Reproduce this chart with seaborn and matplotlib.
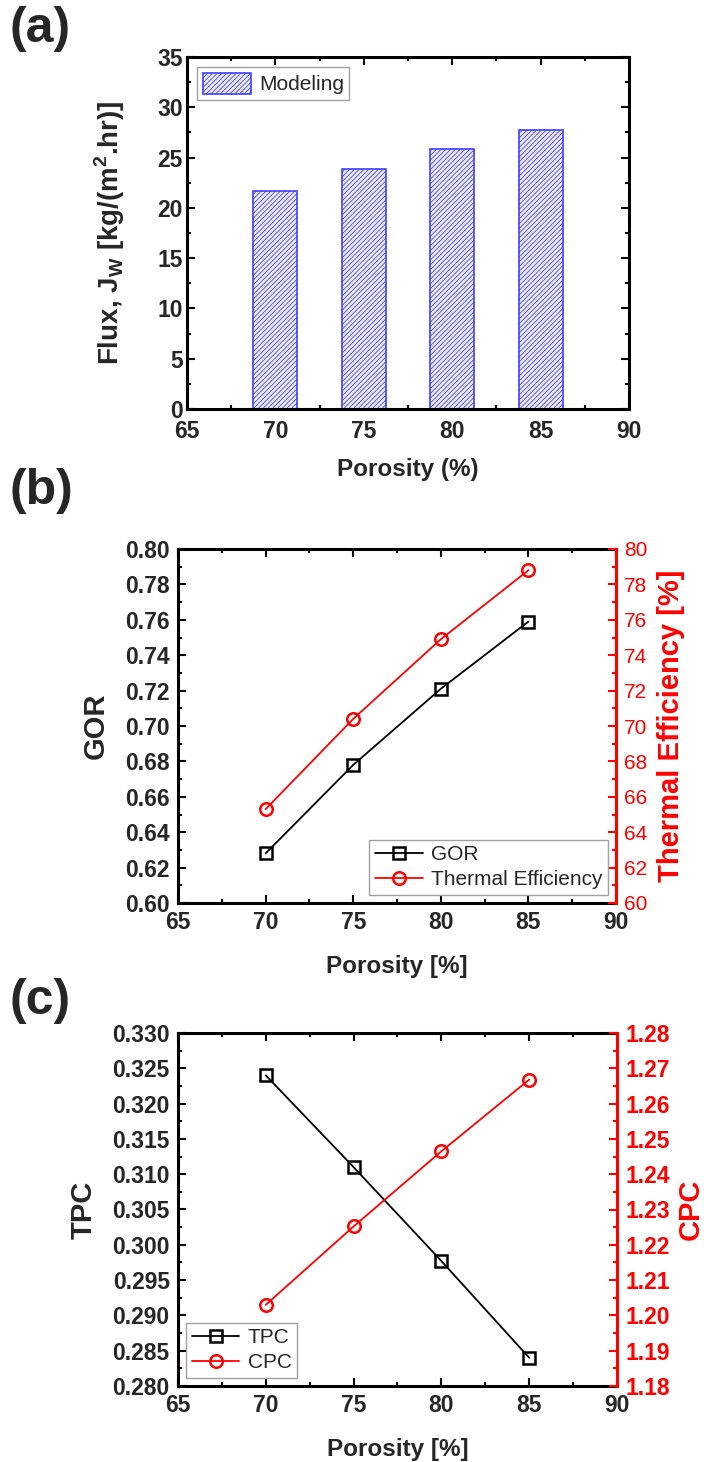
import matplotlib
matplotlib.use("Agg")
import matplotlib.pyplot as plt
from matplotlib.ticker import MultipleLocator, FormatStrFormatter
import pandas as pd
import seaborn as sns

# ---- data -------------------------------------------------------------
porosity = [70, 75, 80, 85]
flux = [21.7, 23.85, 25.9, 27.75]          # kg/(m2.hr)
gor = [0.628, 0.678, 0.721, 0.759]
thermal_eff = [65.3, 70.4, 74.9, 78.8]     # %
tpc = [0.324, 0.311, 0.2977, 0.284]
cpc = [1.203, 1.2252, 1.2465, 1.2668]

# ---- style ------------------------------------------------------------
sns.set_style("white")
plt.rcParams["font.family"] = ["Liberation Sans", "DejaVu Sans"]
plt.rcParams["font.weight"] = "bold"
plt.rcParams["axes.labelweight"] = "bold"
plt.rcParams["mathtext.fontset"] = "custom"
plt.rcParams["mathtext.rm"] = "Liberation Sans:bold"
plt.rcParams["mathtext.bf"] = "Liberation Sans:bold"
plt.rcParams["hatch.linewidth"] = 0.6

TICK_FS = 16.5
YLAB_FS = 21
XLAB_FS = 17.5
LEG_FS = 15
RED = "#ff0000"
BLUE = "#4040ff"

W, H = 704, 1462
fig = plt.figure(figsize=(W / 100, H / 100), dpi=100)


def add_axes(l, t, r, b):
    return fig.add_axes([l / W, 1 - b / H, (r - l) / W, (b - t) / H])


def frame(ax, right_ticks=True):
    for s in ax.spines.values():
        s.set_visible(True)
        s.set_linewidth(2.2)
        s.set_color("black")
    ax.tick_params(which="both", direction="in", top=True, right=right_ticks,
                   bottom=True, left=True, width=1.5, color="black",
                   labelsize=TICK_FS, pad=6)
    ax.tick_params(which="major", length=6)
    ax.tick_params(which="minor", length=3)
    ax.set_xlim(65, 90)
    ax.xaxis.set_major_locator(MultipleLocator(5))
    ax.xaxis.set_minor_locator(MultipleLocator(2.5))


def red_right(ax2, fs, weight):
    for name, s in ax2.spines.items():
        s.set_visible(name == "right")
    ax2.spines["right"].set_color(RED)
    ax2.spines["right"].set_linewidth(2.2)
    ax2.tick_params(axis="y", which="both", direction="in", color=RED,
                    labelcolor=RED, width=1.5, labelsize=fs, pad=6)
    ax2.tick_params(axis="y", which="major", length=6)
    ax2.tick_params(axis="y", which="minor", length=3)
    plt.setp(ax2.get_yticklabels(), fontweight=weight)


# ---- (a) flux bars ----------------------------------------------------
ax_a = add_axes(187, 57, 629, 409)
df_a = pd.DataFrame({"Porosity": porosity, "Flux": flux})
sns.barplot(data=df_a, x="Porosity", y="Flux", native_scale=True, width=0.5,
            color="#eeeeff", saturation=1, edgecolor=BLUE, linewidth=1.2,
            label="Modeling", ax=ax_a, errorbar=None)
for p in ax_a.patches:
    p.set_hatch("///////")
    p.set_edgecolor(BLUE)
frame(ax_a)
ax_a.set_ylim(0, 35)
ax_a.yaxis.set_major_locator(MultipleLocator(5))
ax_a.yaxis.set_minor_locator(MultipleLocator(2.5))
ax_a.tick_params(axis="y", pad=3)
ax_a.tick_params(axis="x", pad=8)
ax_a.set_xlabel("Porosity (%)", fontsize=XLAB_FS)
ax_a.set_ylabel(r"Flux, J$_\mathbf{W}$ [kg/(m$^\mathbf{2}$.hr)]", fontsize=20)
ax_a.xaxis.set_label_coords(0.5, -0.139)
ax_a.yaxis.set_label_coords(-0.135, 0.5)
leg = ax_a.legend(loc="upper left", prop={"size": LEG_FS, "weight": "normal"},
                  frameon=True, fancybox=False, framealpha=1,
                  edgecolor="#a0a0a0", handlelength=2.3, handleheight=1.2,
                  handletextpad=0.4, borderpad=0.25, borderaxespad=0.5)
leg.get_frame().set_linewidth(1.0)

# ---- (b) GOR / thermal efficiency -------------------------------------
ax_b = add_axes(178, 549, 616, 903)
sns.lineplot(x=porosity, y=gor, ax=ax_b, color="black", linewidth=1.3,
             marker="s", markersize=8, markerfacecolor="none",
             markeredgecolor="black", markeredgewidth=1.8, label="GOR",
             legend=False)
frame(ax_b, right_ticks=False)
ax_b.spines["right"].set_visible(False)
ax_b.set_ylim(0.60, 0.80)
ax_b.yaxis.set_major_locator(MultipleLocator(0.02))
ax_b.yaxis.set_minor_locator(MultipleLocator(0.01))
ax_b.yaxis.set_major_formatter(FormatStrFormatter("%.2f"))
ax_b.set_xlabel("Porosity [%]", fontsize=XLAB_FS)
ax_b.set_ylabel("GOR", fontsize=YLAB_FS)
ax_b.xaxis.set_label_coords(0.5, -0.147)
ax_b.yaxis.set_label_coords(-0.155, 0.5)

ax_b2 = ax_b.twinx()
sns.lineplot(x=porosity, y=thermal_eff, ax=ax_b2, color=RED, linewidth=1.3,
             marker="o", markersize=9, markerfacecolor="none",
             markeredgecolor=RED, markeredgewidth=1.8,
             label="Thermal Efficiency", legend=False)
ax_b2.set_ylim(60, 80)
ax_b2.yaxis.set_major_locator(MultipleLocator(2))
ax_b2.yaxis.set_minor_locator(MultipleLocator(1))
ax_b2.yaxis.set_major_formatter(FormatStrFormatter("%d"))
red_right(ax_b2, 15, "normal")
ax_b2.set_ylabel("Thermal Efficiency [%]", fontsize=YLAB_FS, color=RED)
ax_b2.yaxis.set_label_coords(1.094, 0.5)
leg = ax_b2.legend([ax_b.lines[0], ax_b2.lines[0]], ["GOR", "Thermal Efficiency"],
                   loc="lower right", prop={"size": LEG_FS, "weight": "normal"},
                   frameon=True, fancybox=False, framealpha=1,
                   edgecolor="#a0a0a0", handlelength=2.3, handletextpad=0.4,
                   borderpad=0.25, labelspacing=0.3, borderaxespad=0.4)
leg.get_frame().set_linewidth(1.0)

# ---- (c) TPC / CPC ----------------------------------------------------
ax_c = add_axes(178, 1033, 617, 1386)
sns.lineplot(x=porosity, y=tpc, ax=ax_c, color="black", linewidth=1.3,
             marker="s", markersize=8, markerfacecolor="none",
             markeredgecolor="black", markeredgewidth=1.8, label="TPC",
             legend=False)
frame(ax_c, right_ticks=False)
ax_c.spines["right"].set_visible(False)
ax_c.set_ylim(0.280, 0.330)
ax_c.yaxis.set_major_locator(MultipleLocator(0.005))
ax_c.yaxis.set_minor_locator(MultipleLocator(0.0025))
ax_c.yaxis.set_major_formatter(FormatStrFormatter("%.3f"))
ax_c.set_xlabel("Porosity [%]", fontsize=XLAB_FS)
ax_c.set_ylabel("TPC", fontsize=YLAB_FS)
ax_c.xaxis.set_label_coords(0.5, -0.147)
ax_c.yaxis.set_label_coords(-0.182, 0.5)

ax_c2 = ax_c.twinx()
sns.lineplot(x=porosity, y=cpc, ax=ax_c2, color=RED, linewidth=1.3,
             marker="o", markersize=9, markerfacecolor="none",
             markeredgecolor=RED, markeredgewidth=1.8, label="CPC",
             legend=False)
ax_c2.set_ylim(1.18, 1.28)
ax_c2.yaxis.set_major_locator(MultipleLocator(0.01))
ax_c2.yaxis.set_minor_locator(MultipleLocator(0.005))
ax_c2.yaxis.set_major_formatter(FormatStrFormatter("%.2f"))
red_right(ax_c2, TICK_FS, "bold")
ax_c2.set_ylabel("CPC", fontsize=YLAB_FS, color=RED)
ax_c2.yaxis.set_label_coords(1.136, 0.5)
leg = ax_c2.legend([ax_c.lines[0], ax_c2.lines[0]], ["TPC", "CPC"],
                   loc="lower left", prop={"size": LEG_FS, "weight": "normal"},
                   frameon=True, fancybox=False, framealpha=1,
                   edgecolor="#a0a0a0", handlelength=2.3, handletextpad=0.4,
                   borderpad=0.25, labelspacing=0.3, borderaxespad=0.4)
leg.get_frame().set_linewidth(1.0)

# ---- panel letters ----------------------------------------------------
for txt, y in [("(a)", 6), ("(b)", 468), ("(c)", 978)]:
    fig.text(9 / W, 1 - y / H, txt, fontsize=36, fontweight="bold",
             ha="left", va="top")

fig.savefig("out.png", dpi=100)
